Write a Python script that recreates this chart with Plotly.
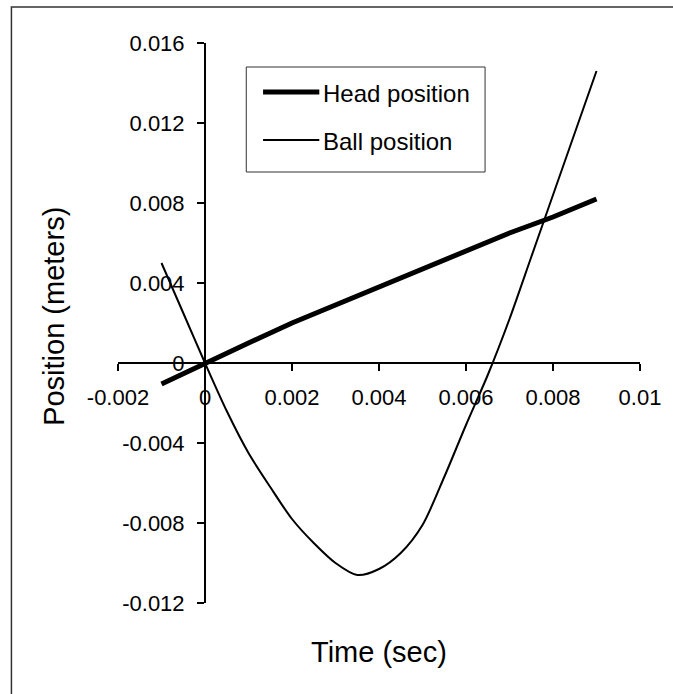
import plotly.graph_objects as go

# Head and ball position vs. time
head_time = [-0.001, 0.0, 0.001, 0.002, 0.003, 0.004, 0.005, 0.006, 0.007, 0.008, 0.009]
head_pos = [-0.00105, 0.0, 0.0010, 0.0020, 0.0029, 0.0038, 0.0047, 0.0056, 0.0065, 0.0073, 0.0082]

ball_time = [-0.001, -0.0005, 0.0, 0.0005, 0.001, 0.0015, 0.002, 0.0025, 0.003, 0.0035,
             0.004, 0.0045, 0.005, 0.0055, 0.006, 0.0065, 0.007, 0.0075, 0.008, 0.0085, 0.009]
ball_pos = [0.0050, 0.0025, 0.0, -0.0024, -0.0045, -0.0062, -0.0078, -0.0090, -0.0100, -0.0106,
            -0.0103, -0.0095, -0.0081, -0.0057, -0.0031, -0.0006, 0.0022, 0.0053, 0.0084, 0.0115, 0.0146]

x_ticks = [-0.002, 0, 0.002, 0.004, 0.006, 0.008, 0.01]
x_tick_text = ["-0.002", "0", "0.002", "0.004", "0.006", "0.008", "0.01"]
y_ticks = [-0.012, -0.008, -0.004, 0, 0.004, 0.008, 0.012, 0.016]
y_tick_text = ["-0.012", "-0.008", "-0.004", "0", "0.004", "0.008", "0.012", "0.016"]

series_names = ["Head position", "Ball position"]

FONT = "Arial, Liberation Sans, sans-serif"
W, H = 673, 694
ML, MR, MT, MB = 118, 26, 43, 91
x_range = [-0.002, 0.01]
y_range = [-0.012, 0.016]


def px_x(px):
    """pixel x -> paper x"""
    return (px - ML) / (W - ML - MR)


def px_y(py):
    """pixel y -> paper y"""
    return (H - MB - py) / (H - MT - MB)


fig = go.Figure()
fig.add_trace(go.Scatter(x=head_time, y=head_pos, mode="lines", name=series_names[0],
                         line=dict(color="black", width=5), showlegend=False))
fig.add_trace(go.Scatter(x=ball_time, y=ball_pos, mode="lines", name=series_names[1],
                         line=dict(color="black", width=2, shape="spline", smoothing=0.8),
                         showlegend=False))

# axes cross at zero, like the Excel original
x_pos = (0 - y_range[0]) / (y_range[1] - y_range[0])
y_pos = (0 - x_range[0]) / (x_range[1] - x_range[0])

fig.update_layout(
    width=W, height=H,
    margin=dict(l=ML, r=MR, t=MT, b=MB),
    paper_bgcolor="white", plot_bgcolor="white",
    font=dict(family=FONT, color="black", size=22),
    xaxis=dict(range=x_range, tickvals=x_ticks, ticktext=x_tick_text,
               showgrid=False, zeroline=False, showline=True, linecolor="black", linewidth=2,
               ticks="outside", ticklen=7, tickwidth=2, tickcolor="black",
               anchor="free", position=x_pos, tickfont=dict(size=22),
               ticklabelstandoff=8),
    yaxis=dict(range=y_range, tickvals=y_ticks, ticktext=y_tick_text,
               showgrid=False, zeroline=False, showline=True, linecolor="black", linewidth=2,
               ticks="outside", ticklen=7, tickwidth=2, tickcolor="black",
               anchor="free", position=y_pos, tickfont=dict(size=22),
               ticklabelstandoff=8),
)

# axis titles
fig.add_annotation(text="Time (sec)", xref="paper", yref="paper", x=px_x(383), y=px_y(652),
                   showarrow=False, font=dict(size=29), xanchor="center", yanchor="middle")
fig.add_annotation(text="Position (meters)", xref="paper", yref="paper", x=px_x(53), y=px_y(316),
                   showarrow=False, font=dict(size=29), textangle=-90,
                   xanchor="center", yanchor="middle")

# legend box drawn by hand so the line samples match the original length
fig.add_shape(type="rect", xref="paper", yref="paper",
              x0=px_x(248), x1=px_x(490), y0=px_y(172), y1=px_y(67),
              line=dict(color="#333333", width=1), fillcolor="white", layer="above")
for name, lw, yy in [(series_names[0], 5, 92), (series_names[1], 2, 140)]:
    fig.add_shape(type="line", xref="paper", yref="paper",
                  x0=px_x(265), x1=px_x(322), y0=px_y(yy), y1=px_y(yy),
                  line=dict(color="black", width=lw), layer="above")
    fig.add_annotation(text=name, xref="paper", yref="paper", x=px_x(324), y=px_y(yy + 1),
                       showarrow=False, font=dict(size=24), xanchor="left", yanchor="middle")

# outer chart border
fig.add_shape(type="rect", xref="paper", yref="paper",
              x0=px_x(10), x1=px_x(720), y0=px_y(740), y1=px_y(7),
              line=dict(color="#333333", width=1.5), layer="above")

fig.write_html("out.html", config={"displayModeBar": False},
               post_script="document.body.style.margin='0';document.body.style.overflow='hidden';")
